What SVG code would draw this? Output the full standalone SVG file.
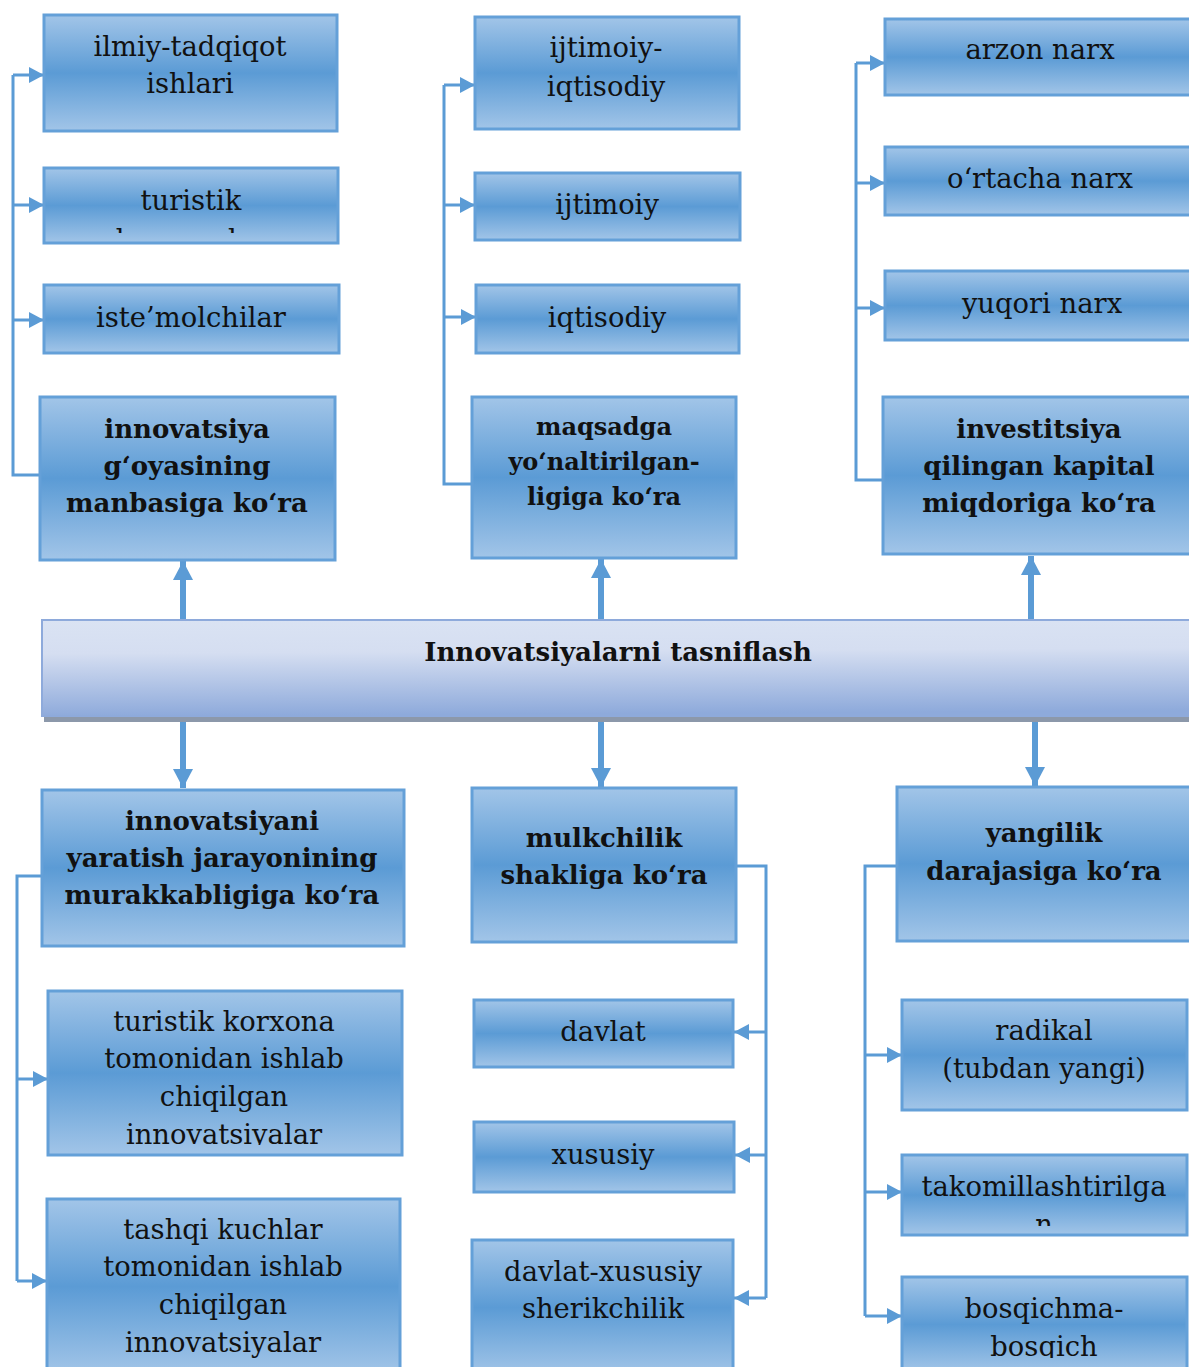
<svg xmlns="http://www.w3.org/2000/svg" width="1189" height="1367" viewBox="0 0 1189 1367">
<defs>
<linearGradient id="gBox" x1="0" y1="0" x2="0" y2="1">
<stop offset="0" stop-color="#a2c5e8"/>
<stop offset="0.5" stop-color="#5b9bd5"/>
<stop offset="1" stop-color="#a2c5e8"/>
</linearGradient>
<linearGradient id="gBar" x1="0" y1="0" x2="0.06" y2="1">
<stop offset="0" stop-color="#dae3f3"/>
<stop offset="0.35" stop-color="#d5def1"/>
<stop offset="1" stop-color="#8eaadb"/>
</linearGradient>
<marker id="ah" markerWidth="16" markerHeight="16" refX="15" refY="8" orient="auto" markerUnits="userSpaceOnUse"><path d="M0,0 L15,8 L0,16 z" fill="#5b9bd5"/></marker>
<marker id="ahBig" markerWidth="20" markerHeight="20" refX="19" refY="10" orient="auto" markerUnits="userSpaceOnUse"><path d="M0,0 L19,10 L0,20 z" fill="#5b9bd5"/></marker>
<clipPath id="c1"><rect x="44" y="168" width="294" height="65"/></clipPath>
<clipPath id="c2"><rect x="48" y="991" width="354" height="154"/></clipPath>
<clipPath id="c3"><rect x="902" y="1155" width="285" height="71"/></clipPath>
<clipPath id="c4"><rect x="902" y="1277" width="285" height="81"/></clipPath>
</defs>
<style>
.box{fill:url(#gBox);stroke:#64a0d8;stroke-width:3}
.bar{fill:url(#gBar);stroke:#8eaadb;stroke-width:2}
.t{font-family:"DejaVu Serif","Liberation Serif",serif;font-size:27.4px;fill:#111;text-anchor:middle}
.b{font-family:"DejaVu Serif","Liberation Serif",serif;font-size:26px;font-weight:bold;fill:#111;text-anchor:middle}
.ln{fill:none;stroke:#5b9bd5;stroke-width:3}
.thick{fill:none;stroke:#5b9bd5;stroke-width:6}
</style>
<g id="connectors">
<path class="ln" d="M40,475 H13 V75"/>
<path class="ln" d="M13,75 H44" marker-end="url(#ah)"/>
<path class="ln" d="M13,205 H44" marker-end="url(#ah)"/>
<path class="ln" d="M13,320 H44" marker-end="url(#ah)"/>
<path class="ln" d="M472,484 H444 V85"/>
<path class="ln" d="M444,85 H475" marker-end="url(#ah)"/>
<path class="ln" d="M444,205 H475" marker-end="url(#ah)"/>
<path class="ln" d="M444,317 H476" marker-end="url(#ah)"/>
<path class="ln" d="M883,480 H856 V63"/>
<path class="ln" d="M856,63 H885" marker-end="url(#ah)"/>
<path class="ln" d="M856,183 H885" marker-end="url(#ah)"/>
<path class="ln" d="M856,308 H885" marker-end="url(#ah)"/>
<path class="thick" d="M183,620 V561" marker-end="url(#ahBig)"/>
<path class="thick" d="M601,620 V559" marker-end="url(#ahBig)"/>
<path class="thick" d="M1031,620 V556" marker-end="url(#ahBig)"/>
<path class="thick" d="M183,720 V788" marker-end="url(#ahBig)"/>
<path class="thick" d="M601,720 V787" marker-end="url(#ahBig)"/>
<path class="thick" d="M1035,720 V786" marker-end="url(#ahBig)"/>
<path class="ln" d="M42,876 H17 V1281"/>
<path class="ln" d="M17,1079 H48" marker-end="url(#ah)"/>
<path class="ln" d="M17,1281 H47" marker-end="url(#ah)"/>
<path class="ln" d="M736,866 H766 V1298"/>
<path class="ln" d="M766,1032 H734" marker-end="url(#ah)"/>
<path class="ln" d="M766,1155 H735" marker-end="url(#ah)"/>
<path class="ln" d="M766,1298 H734" marker-end="url(#ah)"/>
<path class="ln" d="M897,866 H865 V1316"/>
<path class="ln" d="M865,1055 H902" marker-end="url(#ah)"/>
<path class="ln" d="M865,1192 H902" marker-end="url(#ah)"/>
<path class="ln" d="M865,1316 H902" marker-end="url(#ah)"/>
</g>
<g id="center">
<rect x="44" y="626" width="1160" height="96" fill="#8c98aa"/>
<rect class="bar" x="42" y="620" width="1160" height="96"/>
<text class="b" x="618" y="661">Innovatsiyalarni tasniflash</text>
</g>
<g id="n1"><rect class="box" x="44" y="15" width="293" height="116"/><text class="t" x="190" y="56">ilmiy-tadqiqot</text><text class="t" x="190" y="93">ishlari</text></g>
<g id="n2"><rect class="box" x="44" y="168" width="294" height="75"/><g clip-path="url(#c1)"><text class="t" x="191" y="210">turistik</text><text class="t" x="191" y="249">korxonalar</text></g></g>
<g id="n3"><rect class="box" x="44" y="285" width="295" height="68"/><text class="t" x="191" y="327">iste’molchilar</text></g>
<g id="n4"><rect class="box" x="40" y="397" width="295" height="163"/><text class="b" x="187" y="438">innovatsiya</text><text class="b" x="187" y="475">g‘oyasining</text><text class="b" x="187" y="512">manbasiga ko‘ra</text></g>
<g id="n5"><rect class="box" x="475" y="17" width="264" height="112"/><text class="t" x="606" y="57">ijtimoiy-</text><text class="t" x="606" y="96">iqtisodiy</text></g>
<g id="n6"><rect class="box" x="475" y="173" width="265" height="67"/><text class="t" x="607" y="214">ijtimoiy</text></g>
<g id="n7"><rect class="box" x="476" y="285" width="263" height="68"/><text class="t" x="607" y="327">iqtisodiy</text></g>
<g id="n8"><rect class="box" x="472" y="397" width="264" height="161"/><text class="b" x="604" y="435" style="font-size:24px">maqsadga</text><text class="b" x="604" y="470" style="font-size:24px">yo‘naltirilgan-</text><text class="b" x="604" y="505" style="font-size:24px">ligiga ko‘ra</text></g>
<g id="n9"><rect class="box" x="885" y="19" width="310" height="76"/><text class="t" x="1040" y="59">arzon narx</text></g>
<g id="n10"><rect class="box" x="885" y="147" width="310" height="68"/><text class="t" x="1040" y="188">o‘rtacha narx</text></g>
<g id="n11"><rect class="box" x="885" y="271" width="310" height="69"/><text class="t" x="1042" y="313">yuqori narx</text></g>
<g id="n12"><rect class="box" x="883" y="397" width="312" height="157"/><text class="b" x="1039" y="438">investitsiya</text><text class="b" x="1039" y="475">qilingan kapital</text><text class="b" x="1039" y="512">miqdoriga ko‘ra</text></g>
<g id="n13"><rect class="box" x="42" y="790" width="362" height="156"/><text class="b" x="222" y="830">innovatsiyani</text><text class="b" x="222" y="867">yaratish jarayonining</text><text class="b" x="222" y="904">murakkabligiga ko‘ra</text></g>
<g id="n14"><rect class="box" x="48" y="991" width="354" height="164"/><g clip-path="url(#c2)"><text class="t" x="224" y="1031">turistik korxona</text><text class="t" x="224" y="1068">tomonidan ishlab</text><text class="t" x="224" y="1106">chiqilgan</text><text class="t" x="224" y="1144">innovatsiyalar</text></g></g>
<g id="n15"><rect class="box" x="47" y="1199" width="353" height="175"/><text class="t" x="223" y="1239">tashqi kuchlar</text><text class="t" x="223" y="1276">tomonidan ishlab</text><text class="t" x="223" y="1314">chiqilgan</text><text class="t" x="223" y="1352">innovatsiyalar</text></g>
<g id="n16"><rect class="box" x="472" y="788" width="264" height="154"/><text class="b" x="604" y="847">mulkchilik</text><text class="b" x="604" y="884">shakliga ko‘ra</text></g>
<g id="n17"><rect class="box" x="474" y="1000" width="259" height="67"/><text class="t" x="603" y="1041">davlat</text></g>
<g id="n18"><rect class="box" x="474" y="1122" width="260" height="70"/><text class="t" x="603" y="1164">xususiy</text></g>
<g id="n19"><rect class="box" x="472" y="1240" width="261" height="135"/><text class="t" x="603" y="1281">davlat-xususiy</text><text class="t" x="603" y="1318">sherikchilik</text></g>
<g id="n20"><rect class="box" x="897" y="787" width="298" height="154"/><text class="b" x="1044" y="842">yangilik</text><text class="b" x="1044" y="880">darajasiga ko‘ra</text></g>
<g id="n21"><rect class="box" x="902" y="1000" width="285" height="110"/><text class="t" x="1044" y="1040">radikal</text><text class="t" x="1044" y="1078">(tubdan yangi)</text></g>
<g id="n22"><rect class="box" x="902" y="1155" width="285" height="80"/><g clip-path="url(#c3)"><text class="t" x="1044" y="1196">takomillashtirilga</text><text class="t" x="1044" y="1234">n</text></g></g>
<g id="n23"><rect class="box" x="902" y="1277" width="285" height="95"/><g clip-path="url(#c4)"><text class="t" x="1044" y="1318">bosqichma-</text><text class="t" x="1044" y="1356">bosqich</text></g></g>
</svg>
